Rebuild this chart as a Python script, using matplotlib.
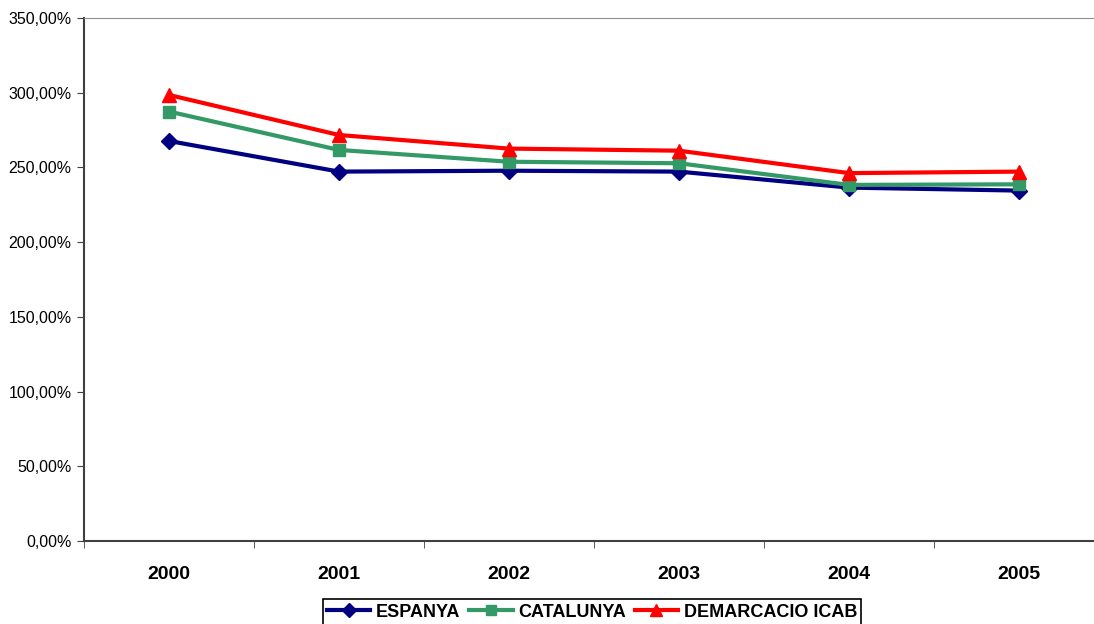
import matplotlib.pyplot as plt
from matplotlib.ticker import FuncFormatter, FixedLocator

# --- dades ---
anys = ['2000', '2001', '2002', '2003', '2004', '2005']
espanya = [267.7, 247.2, 247.8, 247.2, 236.5, 234.5]
catalunya = [287.4, 261.7, 253.8, 252.8, 238.3, 238.7]
icab = [298.5, 271.7, 262.6, 261.2, 246.2, 247.2]

plt.rcParams['font.family'] = ['Liberation Sans', 'DejaVu Sans']

fig = plt.figure(figsize=(10.94, 6.24), dpi=100)
# l'eix surt una mica per la dreta, com a l'original
ax = fig.add_axes([84 / 1094, 83 / 624, 1020 / 1094, 523 / 624])

x = range(len(anys))
ax.plot(x, espanya, color='#000080', marker='D', markersize=8, linewidth=3, label='ESPANYA')
ax.plot(x, catalunya, color='#339966', marker='s', markersize=9, linewidth=3, label='CATALUNYA')
ax.plot(x, icab, color='#FF0000', marker='^', markersize=10, linewidth=3, label='DEMARCACIO ICAB')

ax.set_xlim(-0.5, len(anys) - 0.5)
ax.set_ylim(0, 350)
ax.set_yticks(range(0, 351, 50))
ax.yaxis.set_major_formatter(FuncFormatter(lambda v, p: f'{v:.2f}'.replace('.', ',') + '%'))
ax.tick_params(axis='y', labelsize=11.5, length=5, color='#404040', pad=4)

ax.set_xticks(list(x))
ax.set_xticklabels(anys, fontsize=14, fontweight='bold')
ax.tick_params(axis='x', which='major', length=0, pad=18)
ax.xaxis.set_minor_locator(FixedLocator([i - 0.5 for i in range(len(anys) + 1)]))
ax.tick_params(axis='x', which='minor', length=5, color='#404040')

ax.spines['top'].set_color('#909090')
ax.spines['right'].set_visible(False)
ax.spines['left'].set_color('#404040')
ax.spines['left'].set_linewidth(1.5)
ax.spines['bottom'].set_color('#404040')
ax.spines['bottom'].set_linewidth(1.5)

leg = fig.legend(loc='upper center', bbox_to_anchor=(592 / 1094, 1 - 599 / 624), ncol=3,
                 frameon=True, fancybox=False, edgecolor='black', framealpha=1,
                 prop={'weight': 'bold', 'size': 13}, handlelength=2.4, handletextpad=0.3,
                 columnspacing=0.5, borderpad=0.25, borderaxespad=0, markerscale=0.85)
leg.get_frame().set_linewidth(1.2)

fig.savefig('out.png', dpi=100)
